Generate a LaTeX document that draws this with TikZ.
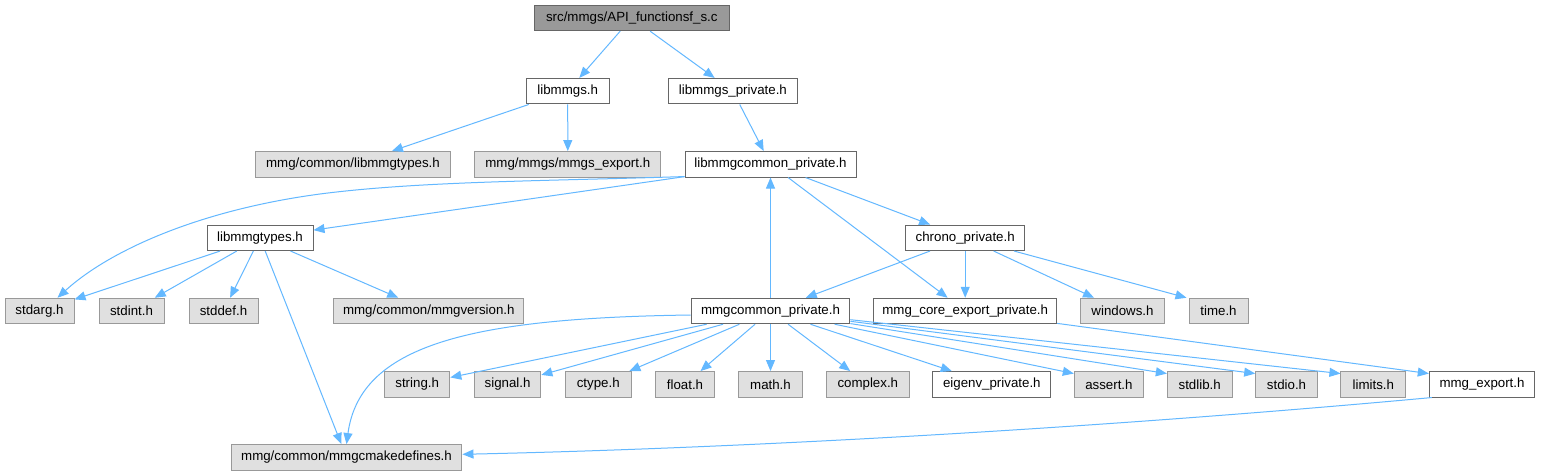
\documentclass[tikz,border=0pt]{standalone}
\usepackage{fontspec}
\setmainfont{Liberation Sans}
\usetikzlibrary{arrows.meta}
\definecolor{edgec}{HTML}{63B8FF}
\definecolor{bwhite}{HTML}{666666}
\definecolor{bgray}{HTML}{999999}
\definecolor{fgray}{HTML}{E0E0E0}
\begin{document}
\begin{tikzpicture}[x=1pt,y=-1pt,
  base/.style={rectangle, inner sep=0pt, minimum height=25.5pt, font=\fontsize{13.3}{16}\selectfont, line width=1pt, anchor=center},
  wbox/.style={base, draw=bwhite, fill=white},
  gbox/.style={base, draw=bgray, fill=fgray},
  rootbox/.style={base, draw=bwhite, fill=bgray},
  dep/.style={draw=edgec, line width=1pt, -{Triangle[length=11pt,width=9pt]}}
]
\useasboundingbox[fill=white] (0,0) rectangle (1541,476);

% nodes
\node[rootbox, minimum width=195pt] (api) at (631.8,17.9) {src/mmgs/API\_functionsf\_s.c};
\node[wbox, minimum width=83.3pt] (libmmgs) at (567.7,91.2) {libmmgs.h};
\node[wbox, minimum width=128.3pt] (libmmgspriv) at (732.9,91.2) {libmmgs\_private.h};
\node[gbox, minimum width=195.4pt] (commontypes) at (353,164.3) {mmg/common/libmmgtypes.h};
\node[gbox, minimum width=185.7pt] (mmgsexport) at (567.8,164.3) {mmg/mmgs/mmgs\_export.h};
\node[wbox, minimum width=171pt] (libcommonpriv) at (770.5,164.3) {libmmgcommon\_private.h};
\node[wbox, minimum width=106pt] (libmmgtypes) at (260,237.8) {libmmgtypes.h};
\node[wbox, minimum width=119pt] (chrono) at (965.2,237.8) {chrono\_private.h};
\node[gbox, minimum width=69pt] (stdarg) at (39.5,311) {stdarg.h};
\node[gbox, minimum width=65pt] (stdint) at (131.5,311) {stdint.h};
\node[gbox, minimum width=69pt] (stddef) at (223.5,311) {stddef.h};
\node[gbox, minimum width=190pt] (mmgversion) at (428.8,311) {mmg/common/mmgversion.h};
\node[wbox, minimum width=158.7pt] (mmgcommonpriv) at (770.5,311) {mmgcommon\_private.h};
\node[wbox, minimum width=183pt] (coreexport) at (965.2,311) {mmg\_core\_export\_private.h};
\node[gbox, minimum width=84.4pt] (windows) at (1122.5,311) {windows.h};
\node[gbox, minimum width=59pt] (time) at (1218.5,311) {time.h};
\node[gbox, minimum width=65.2pt] (string) at (417.2,384.3) {string.h};
\node[gbox, minimum width=66.5pt] (signal) at (507.6,384.3) {signal.h};
\node[gbox, minimum width=65.6pt] (ctype) at (598.2,384.3) {ctype.h};
\node[gbox, minimum width=58.7pt] (float) at (685,384.3) {float.h};
\node[gbox, minimum width=63.3pt] (math) at (770.5,384.3) {math.h};
\node[gbox, minimum width=83pt] (complex) at (867.8,384.3) {complex.h};
\node[wbox, minimum width=117.7pt] (eigenv) at (991.8,384.3) {eigenv\_private.h};
\node[gbox, minimum width=69.2pt] (assert) at (1108.9,384.3) {assert.h};
\node[gbox, minimum width=64.7pt] (stdlib) at (1199.7,384.3) {stdlib.h};
\node[gbox, minimum width=61.6pt] (stdio) at (1286.5,384.3) {stdio.h};
\node[gbox, minimum width=64.7pt] (limits) at (1373.3,384.3) {limits.h};
\node[wbox, minimum width=105.4pt] (mmgexport) at (1482,384.3) {mmg\_export.h};
\node[gbox, minimum width=230.9pt] (cmakedefs) at (346.5,457.3) {mmg/common/mmgcmakedefines.h};

% edges
\draw[dep] (api) -- (libmmgs);
\draw[dep] (api) -- (libmmgspriv);
\draw[dep] (libmmgs) -- (commontypes);
\draw[dep] (libmmgs) -- (mmgsexport);
\draw[dep] (libmmgspriv) -- (libcommonpriv);
\draw[dep] (libcommonpriv) -- (libmmgtypes);
\draw[dep] ([yshift=1pt]libcommonpriv.south west) .. controls (550,181) and (420,181) .. (320,194)
  .. controls (200,210) and (110,250) .. ([xshift=18pt]stdarg.north);
\draw[dep] (libcommonpriv) -- (chrono);
\draw[dep] (libcommonpriv) -- (coreexport);
\draw[dep] (mmgcommonpriv) -- (libcommonpriv);
\draw[dep] (chrono) -- (mmgcommonpriv);
\draw[dep] (chrono) -- (coreexport);
\draw[dep] (chrono) -- (windows);
\draw[dep] (chrono) -- ([xshift=-2pt]time.north west);
\draw[dep] (libmmgtypes) -- (stdarg);
\draw[dep] (libmmgtypes) -- (stdint);
\draw[dep] (libmmgtypes) -- (stddef);
\draw[dep] (libmmgtypes) -- (mmgversion);
\draw[dep] (libmmgtypes) -- (cmakedefs);
\draw[dep] ([yshift=-4pt]mmgcommonpriv.west) .. controls (470,318) and (360,345) .. (cmakedefs.north);
\draw[dep] (mmgcommonpriv) -- (string);
\draw[dep] (mmgcommonpriv) -- (signal);
\draw[dep] (mmgcommonpriv) -- (ctype);
\draw[dep] (mmgcommonpriv) -- (float);
\draw[dep] (mmgcommonpriv) -- (math);
\draw[dep] (mmgcommonpriv) -- (complex);
\draw[dep] (mmgcommonpriv) -- (eigenv);
\draw[dep] (mmgcommonpriv) -- ([yshift=-2.5pt]assert.north west);
\draw[dep] (mmgcommonpriv) -- ([yshift=-2.5pt]stdlib.north west);
\draw[dep] (mmgcommonpriv) -- ([yshift=-2.5pt]stdio.north west);
\draw[dep] (mmgcommonpriv) -- ([yshift=-2.5pt]limits.north west);
\draw[dep] (coreexport) -- ([yshift=-2.5pt]mmgexport.north west);
\draw[dep] ([xshift=3pt]mmgexport.south west) .. controls (1100,428) and (750,448) .. ([yshift=3pt]cmakedefs.east);
\end{tikzpicture}
\end{document}
